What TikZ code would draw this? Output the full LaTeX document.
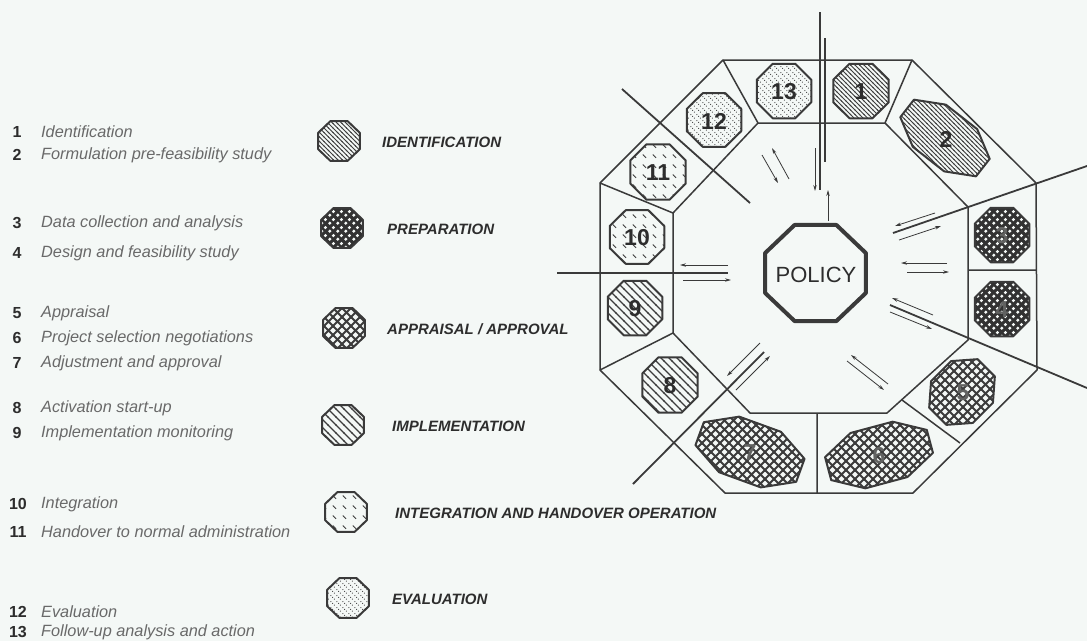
\documentclass[tikz,border=0pt]{standalone}
\usepackage{fontspec}
\setmainfont{Liberation Sans}
\usetikzlibrary{arrows.meta,patterns}
\definecolor{bgcol}{RGB}{244,248,246}
\definecolor{linecol}{RGB}{58,58,58}
\definecolor{txtdark}{RGB}{45,45,45}
\definecolor{txtlight}{RGB}{105,105,105}
\definecolor{patcol}{RGB}{60,60,60}
\definecolor{prepcol}{RGB}{50,50,50}

\pgfdeclarepatternformonly{idhatch}{\pgfqpoint{-1pt}{-1pt}}{\pgfqpoint{5.5pt}{5.5pt}}{\pgfqpoint{4.5pt}{4.5pt}}{%
\pgfsetlinewidth{0.9pt}\pgfpathmoveto{\pgfqpoint{-0.5pt}{5pt}}\pgfpathlineto{\pgfqpoint{5pt}{-0.5pt}}\pgfusepath{stroke}}
\pgfdeclarepatternformonly{imphatch}{\pgfqpoint{-1pt}{-1pt}}{\pgfqpoint{9pt}{9pt}}{\pgfqpoint{8pt}{8pt}}{%
\pgfsetlinewidth{1.4pt}\pgfpathmoveto{\pgfqpoint{-0.5pt}{8.5pt}}\pgfpathlineto{\pgfqpoint{8.5pt}{-0.5pt}}\pgfusepath{stroke}}
\pgfdeclarepatternformonly{intdash}{\pgfqpoint{0pt}{0pt}}{\pgfqpoint{10pt}{10pt}}{\pgfqpoint{10pt}{10pt}}{%
\pgfsetlinewidth{1.1pt}\pgfpathmoveto{\pgfqpoint{3pt}{7pt}}\pgfpathlineto{\pgfqpoint{6.5pt}{3.5pt}}\pgfusepath{stroke}}
\pgfdeclarepatternformonly{evaldots}{\pgfqpoint{0pt}{0pt}}{\pgfqpoint{6pt}{6pt}}{\pgfqpoint{6pt}{6pt}}{%
\pgfpathcircle{\pgfqpoint{1pt}{5pt}}{0.6pt}\pgfpathcircle{\pgfqpoint{3pt}{3pt}}{0.6pt}\pgfpathcircle{\pgfqpoint{5pt}{1pt}}{0.6pt}\pgfusepath{fill}}
\pgfdeclarepatternformonly{prepdots}{\pgfqpoint{0pt}{0pt}}{\pgfqpoint{8pt}{8pt}}{\pgfqpoint{8pt}{8pt}}{%
\pgfpathcircle{\pgfqpoint{2pt}{2pt}}{1.9pt}\pgfpathcircle{\pgfqpoint{6pt}{6pt}}{1.9pt}\pgfusepath{fill}}
\pgfdeclarepatternformonly{appgrid}{\pgfqpoint{-1pt}{-1pt}}{\pgfqpoint{10pt}{10pt}}{\pgfqpoint{9pt}{9pt}}{%
\pgfsetlinewidth{1.8pt}\pgfpathmoveto{\pgfqpoint{-1pt}{-1pt}}\pgfpathlineto{\pgfqpoint{10pt}{10pt}}%
\pgfpathmoveto{\pgfqpoint{-1pt}{10pt}}\pgfpathlineto{\pgfqpoint{10pt}{-1pt}}\pgfusepath{stroke}}

\newcommand{\octshape}[6]{%
\draw[#1, shift={(#2,#3)}, rotate=#6, xscale=#4, yscale=#5]
(22.5:1) -- (67.5:1) -- (112.5:1) -- (157.5:1) -- (202.5:1) -- (247.5:1) -- (292.5:1) -- (337.5:1) -- cycle;}

\tikzset{
 ring/.style={line width=1.5pt, draw=linecol, line join=round},
 ray/.style={line width=1.8pt, draw=linecol},
 arr/.style={line width=0.8pt, draw=linecol, -{Stealth[length=6pt,width=3.4pt]}},
 cellline/.style={line width=2pt, draw=linecol, line join=round},
 idf/.style={cellline, pattern=idhatch, pattern color=patcol},
 prepf/.style={cellline, preaction={fill=prepcol}, pattern=prepdots, pattern color=bgcol},
 appf/.style={cellline, preaction={fill=bgcol}, pattern=appgrid, pattern color=patcol},
 impf/.style={cellline, pattern=imphatch, pattern color=patcol},
 intf/.style={cellline, pattern=intdash, pattern color=patcol},
 evalf/.style={cellline, pattern=evaldots, pattern color=patcol},
 policyline/.style={line width=4pt, draw=linecol, line join=round},
 cellnum/.style={text=txtdark, font=\fontsize{23}{23}\selectfont\bfseries, inner sep=0pt},
 cellnumf/.style={text=black!60!bgcol, font=\fontsize{23}{23}\selectfont\bfseries, inner sep=0pt},
 numL/.style={text=txtdark, font=\fontsize{16}{16}\selectfont\bfseries, inner sep=0pt},
 descL/.style={text=txtlight, font=\fontsize{16.3}{16.3}\selectfont\itshape, anchor=west, inner sep=0pt},
 legtxt/.style={text=txtdark, font=\fontsize{15}{15}\selectfont\bfseries\itshape, anchor=west, inner sep=0pt},
}

\begin{document}
\begin{tikzpicture}[x=1pt,y=-1pt]
\useasboundingbox (0,0) rectangle (1087,641);
\fill[bgcol] (0,0) rectangle (1087,641);

% ---------- octagon ring ----------
\coordinate (O1) at (723,60);  \coordinate (O2) at (912,60);
\coordinate (O3) at (1036,183); \coordinate (O4) at (1037,370);
\coordinate (O5) at (913,493); \coordinate (O6) at (725,493);
\coordinate (O7) at (600,370); \coordinate (O8) at (600,183);
\coordinate (I1) at (758,123); \coordinate (I2) at (885,123);
\coordinate (I3) at (968,207); \coordinate (I4) at (968,340);
\coordinate (I5) at (887,413); \coordinate (I6) at (750,413);
\coordinate (I7) at (673,333); \coordinate (I8) at (673,213);
\draw[ring] (O1)--(O2)--(O3)--(O4)--(O5)--(O6)--(O7)--(O8)--cycle;
\draw[ring] (I1)--(I2)--(I3)--(I4)--(I5)--(I6)--(I7)--(I8)--cycle;

% cell dividers
\coordinate (d34a) at (968,270); \coordinate (d34b) at (1036,270);
\coordinate (d56a) at (902,400); \coordinate (d56b) at (960,443);
\coordinate (d67a) at (817,413); \coordinate (d67b) at (817,493);
\draw[ring] (O1)--(I1) (O2)--(I2) (O7)--(I7) (O8)--(I8);
\draw[ring] (d34a)--(d34b) (d56a)--(d56b) (d67a)--(d67b);

% ---------- rays ----------
\coordinate (rtA) at (820,12);  \coordinate (rtB) at (820,190);
\coordinate (rtC) at (825,38);  \coordinate (rtD) at (825,162);
\coordinate (rulA) at (622,89); \coordinate (rulB) at (750,203);
\coordinate (rlA) at (557,273); \coordinate (rlB) at (728,273);
\coordinate (rllA) at (633,484); \coordinate (rllB) at (764,352);
\coordinate (rurA) at (1087,166); \coordinate (rurB) at (893,233);
\coordinate (rlrA) at (1087,388); \coordinate (rlrB) at (890,305);
\draw[ray] (rtA)--(rtB);
\draw[ray] (rtC)--(rtD);
\draw[ray] (rulA)--(rulB);
\draw[ray] (rlA)--(rlB);
\draw[ray] (rllA)--(rllB);
\draw[ray] (rurA)--(rurB);
\draw[ray] (rlrA)--(rlrB);

% ---------- arrow pairs ----------
\coordinate (a1s) at (815,148); \coordinate (a1e) at (815,191);
\coordinate (a2s) at (828,221); \coordinate (a2e) at (828,190);
\draw[arr] (a1s)--(a1e);
\draw[arr] (a2s)--(a2e);
\coordinate (a3s) at (762,155); \coordinate (a3e) at (778,183);
\coordinate (a4s) at (789,179); \coordinate (a4e) at (772,148);
\draw[arr] (a3s)--(a3e);
\draw[arr] (a4s)--(a4e);
\coordinate (a5s) at (728,265); \coordinate (a5e) at (680,265);
\coordinate (a6s) at (683,280); \coordinate (a6e) at (731,280);
\draw[arr] (a5s)--(a5e);
\draw[arr] (a6s)--(a6e);
\coordinate (a7s) at (760,343); \coordinate (a7e) at (727,376);
\coordinate (a8s) at (736,390); \coordinate (a8e) at (770,356);
\draw[arr] (a7s)--(a7e);
\draw[arr] (a8s)--(a8e);
\coordinate (a9s) at (888,384); \coordinate (a9e) at (851,355);
\coordinate (a10s) at (847,361); \coordinate (a10e) at (884,390);
\draw[arr] (a9s)--(a9e);
\draw[arr] (a10s)--(a10e);
\coordinate (a11s) at (947,263); \coordinate (a11e) at (901,263);
\coordinate (a12s) at (907,272); \coordinate (a12e) at (949,272);
\draw[arr] (a11s)--(a11e);
\draw[arr] (a12s)--(a12e);
\coordinate (a13s) at (935,213); \coordinate (a13e) at (895,226);
\coordinate (a14s) at (899,240); \coordinate (a14e) at (941,226);
\draw[arr] (a13s)--(a13e);
\draw[arr] (a14s)--(a14e);
\coordinate (a15s) at (933,315); \coordinate (a15e) at (892,298);
\coordinate (a16s) at (890,312); \coordinate (a16e) at (932,329);
\draw[arr] (a15s)--(a15e);
\draw[arr] (a16s)--(a16e);

% ---------- policy ----------
\octshape{policyline}{815.5}{273}{54.6}{52}{0}
\node[text=txtdark, font=\fontsize{22}{22}\selectfont, inner sep=0pt] (policy) at (816,275) {POLICY};

% ---------- cells ----------
\octshape{evalf}{784}{91}{29.5}{29.5}{0}
\node[cellnum] (c13) at (784,92) {13};
\octshape{idf}{861}{91}{30}{29.5}{0}
\node[cellnum] (c1) at (861,92) {1};
\octshape{idf}{945}{138}{52}{29}{-38}
\node[cellnum] (c2) at (946,139) {2};
\octshape{prepf}{1002}{235}{29.5}{29.5}{0}
\node[cellnumf] (c3) at (1002,236) {3};
\octshape{prepf}{1002}{309}{29.5}{29.5}{0}
\node[cellnumf] (c4) at (1002,310) {4};
\octshape{appf}{962}{392}{37}{32}{45}
\node[cellnumf] (c5) at (963,393) {5};
\octshape{appf}{879}{455}{57}{31}{15}
\node[cellnumf] (c6) at (879,456) {6};
\octshape{appf}{750}{452}{58}{32}{-20}
\node[cellnumf] (c7) at (750,453) {7};
\octshape{impf}{670}{385}{30}{30}{0}
\node[cellnum] (c8) at (670,386) {8};
\octshape{impf}{635}{308}{29.5}{29.5}{0}
\node[cellnum] (c9) at (635,309) {9};
\octshape{intf}{637}{237}{29.5}{29}{0}
\node[cellnum] (c10) at (637,238) {10};
\octshape{intf}{658}{172}{30}{30}{0}
\node[cellnum] (c11) at (658,173) {11};
\octshape{evalf}{714}{120}{29.5}{29}{0}
\node[cellnum] (c12) at (714,121) {12};

% ---------- legend glyphs ----------
\octshape{idf}{339}{141}{22.5}{21.5}{0}
\node[legtxt] (lg1) at (382,142) {IDENTIFICATION};
\octshape{prepf}{342}{228}{22.5}{21.5}{0}
\node[legtxt] (lg2) at (387,229) {PREPARATION};
\octshape{appf}{344}{328}{22.5}{21.5}{0}
\node[legtxt] (lg3) at (387,329) {APPRAISAL / APPROVAL};
\octshape{impf}{343}{425}{22.5}{21.5}{0}
\node[legtxt] (lg4) at (392,426) {IMPLEMENTATION};
\octshape{intf}{346}{512}{22.5}{21.5}{0}
\node[legtxt] (lg5) at (395,513) {INTEGRATION AND HANDOVER OPERATION};
\octshape{evalf}{348}{598}{22.5}{21.5}{0}
\node[legtxt] (lg6) at (392,599) {EVALUATION};

% ---------- left list ----------
\node[numL] (n1) at (17,132) {1};   \node[descL] (t1) at (41,132) {Identification};
\node[numL] (n2) at (17,155) {2};   \node[descL] (t2) at (41,155) {Formulation pre-feasibility study};
\node[numL] (n3) at (17,223) {3};   \node[descL] (t3) at (41,223) {Data collection and analysis};
\node[numL] (n4) at (17,253) {4};   \node[descL] (t4) at (41,253) {Design and feasibility study};
\node[numL] (n5) at (17,313) {5};   \node[descL] (t5) at (41,313) {Appraisal};
\node[numL] (n6) at (17,338) {6};   \node[descL] (t6) at (41,338) {Project selection negotiations};
\node[numL] (n7) at (17,363) {7};   \node[descL] (t7) at (41,363) {Adjustment and approval};
\node[numL] (n8) at (17,408) {8};   \node[descL] (t8) at (41,408) {Activation start-up};
\node[numL] (n9) at (17,433) {9};   \node[descL] (t9) at (41,433) {Implementation monitoring};
\node[numL] (n10) at (18,504) {10}; \node[descL] (t10) at (41,504) {Integration};
\node[numL] (n11) at (18,532) {11}; \node[descL] (t11) at (41,532) {Handover to normal administration};
\node[numL] (n12) at (18,612) {12}; \node[descL] (t12) at (41,612) {Evaluation};
\node[numL] (n13) at (18,632) {13}; \node[descL] (t13) at (41,632) {Follow-up analysis and action};
\end{tikzpicture}
\end{document}
